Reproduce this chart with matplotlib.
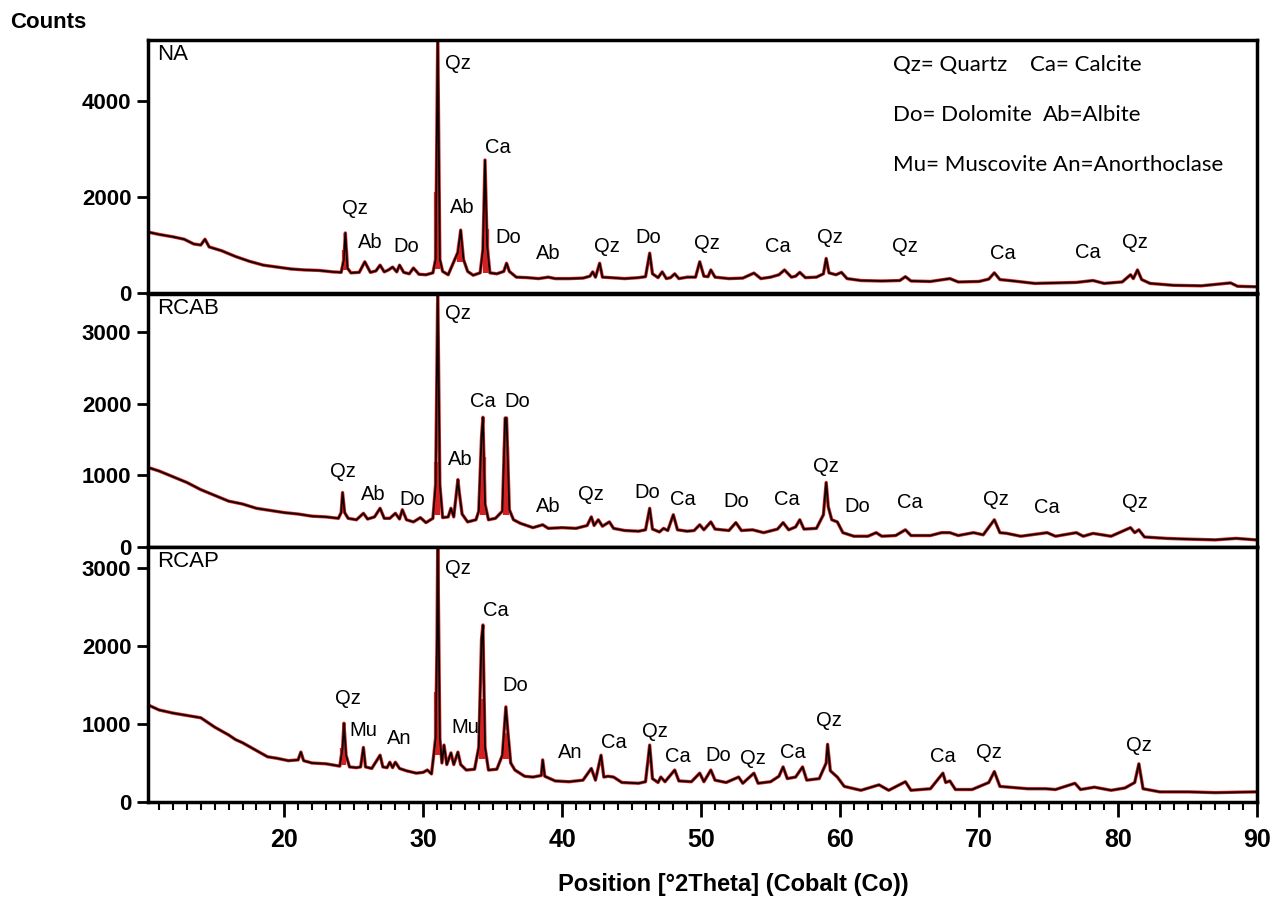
import matplotlib
matplotlib.use('Agg')
import matplotlib.pyplot as plt
from matplotlib.ticker import MultipleLocator

# ---- data ----
na_x = [10.2, 11, 12, 12.8, 13.5, 14.0, 14.3, 14.6, 15.5, 16.5, 17.5, 18.5, 19.5, 20.5, 21.5, 22.5, 23.5,
        24.1, 24.3, 24.4, 24.55, 24.8, 25.4, 25.8, 26.2, 26.6, 26.9, 27.2, 27.5, 27.8, 28.1, 28.3, 28.6, 29.0,
        29.3, 29.7, 30.2, 30.7, 30.9, 31.05, 31.2, 31.4, 31.8, 32.2, 32.5, 32.7, 32.9, 33.2, 33.6, 34.1, 34.3,
        34.45, 34.6, 34.8, 35.3, 35.8, 36.0, 36.2, 36.7, 37.5, 38.3, 39.0, 39.5, 40.5, 41.5, 42.0, 42.2, 42.4,
        42.7, 42.9, 43.5, 44.5, 45.5, 46.0, 46.3, 46.5, 46.9, 47.2, 47.5, 47.8, 48.1, 48.4, 49.0, 49.6, 49.9,
        50.2, 50.5, 50.7, 51.0, 52.0, 53.0, 53.8, 54.3, 55.0, 55.6, 56.0, 56.5, 56.8, 57.1, 57.5, 58.3, 58.8,
        59.0, 59.2, 59.7, 60.1, 60.5, 61.5, 63.0, 64.3, 64.7, 65.1, 66.5, 67.9, 68.5, 70.0, 70.7, 71.1, 71.5,
        72.5, 74.0, 75.5, 77.0, 78.2, 79.0, 80.3, 80.9, 81.1, 81.4, 81.7, 82.3, 84.0, 86.0, 88.1, 88.6, 89.9]
na_y = [1270, 1220, 1170, 1120, 1020, 1000, 1120, 960, 880, 760, 660, 580, 540, 500, 480, 470, 440,
        430, 700, 1250, 520, 420, 430, 650, 430, 460, 580, 440, 480, 540, 440, 580, 430, 400,
        520, 390, 380, 420, 700, 5400, 700, 450, 380, 650, 850, 1310, 700, 450, 370, 420, 900,
        2770, 1000, 420, 400, 450, 620, 450, 330, 320, 300, 330, 300, 300, 310, 350, 440, 330,
        620, 330, 320, 300, 320, 340, 830, 400, 320, 440, 300, 320, 400, 300, 330, 330, 650,
        350, 340, 480, 330, 300, 310, 415, 300, 330, 380, 480, 330, 350, 430, 320, 330, 400,
        720, 420, 380, 430, 300, 260, 250, 260, 340, 250, 240, 300, 230, 240, 290, 420, 280,
        250, 200, 210, 220, 260, 200, 230, 380, 300, 480, 280, 200, 160, 150, 210, 140, 130]

rcab_x = [10.2, 11, 12, 13, 14, 15, 16, 17, 18, 19, 20, 21, 22, 23, 23.9, 24.1, 24.2, 24.35, 24.6, 25.2,
          25.7, 26.0, 26.5, 26.9, 27.2, 27.6, 28.0, 28.3, 28.5, 28.8, 29.3, 29.8, 30.2, 30.7, 30.9, 31.05,
          31.2, 31.4, 31.8, 32.0, 32.2, 32.5, 32.6, 32.8, 33.2, 33.8, 34.0, 34.2, 34.3, 34.45, 34.7, 35.2,
          35.7, 35.9, 36.0, 36.2, 36.5, 37.0, 37.9, 38.6, 39.0, 40.0, 41.0, 41.8, 42.1, 42.3, 42.6, 42.9,
          43.4, 43.7, 44.5, 45.5, 46.0, 46.3, 46.5, 47.0, 47.3, 47.6, 48.0, 48.3, 49.0, 49.5, 49.9, 50.2,
          50.7, 51.0, 52.0, 52.5, 52.9, 53.7, 54.5, 55.5, 55.9, 56.3, 56.8, 57.1, 57.4, 58.3, 58.8, 59.0,
          59.15, 59.4, 59.8, 60.2, 61.0, 62.0, 62.6, 63.0, 64.0, 64.7, 65.1, 66.5, 67.3, 67.9, 68.5, 69.6,
          70.3, 71.1, 71.5, 72.0, 73.0, 74.9, 75.5, 77.0, 77.5, 78.2, 79.5, 80.9, 81.2, 81.5, 81.9, 83.5,
          85.0, 87.0, 88.5, 89.9]
rcab_y = [1110, 1060, 980, 900, 800, 720, 640, 600, 540, 510, 480, 460, 430, 420, 400, 480, 760, 480, 400, 380,
          470, 390, 420, 540, 400, 400, 470, 390, 520, 380, 350, 410, 340, 400, 870, 3600,
          870, 410, 420, 540, 420, 940, 760, 460, 350, 380, 500, 1540, 1810, 600, 380, 400,
          500, 1800, 1800, 520, 380, 330, 270, 310, 260, 270, 260, 300, 420, 300, 380, 290,
          350, 260, 230, 220, 240, 540, 250, 210, 260, 230, 450, 240, 220, 230, 310, 240,
          350, 250, 230, 340, 230, 240, 200, 250, 340, 240, 280, 380, 250, 260, 450, 900,
          560, 380, 350, 200, 150, 150, 200, 150, 160, 240, 160, 160, 200, 200, 160, 200,
          170, 380, 200, 190, 150, 200, 150, 200, 150, 190, 150, 270, 200, 240, 140, 120,
          110, 100, 120, 100]

rcap_x = [10.2, 11, 12, 13, 14, 15, 16, 16.5, 17, 18, 18.8, 19.5, 20.3, 21.0, 21.2, 21.4, 22, 23, 23.5, 24.0,
          24.2, 24.3, 24.45, 24.7, 25.2, 25.5, 25.7, 25.85, 26.3, 26.9, 27.1, 27.4, 27.6, 27.8, 28.0, 28.3,
          28.8, 29.5, 30.0, 30.3, 30.6, 30.9, 31.0, 31.05, 31.2, 31.35, 31.5, 31.7, 32.0, 32.2, 32.5, 32.7,
          33.1, 33.7, 34.0, 34.2, 34.3, 34.45, 34.7, 35.3, 35.7, 35.95, 36.1, 36.3, 36.6, 37.3, 37.9, 38.5,
          38.6, 38.75, 39.5, 40.5, 41.5, 42.1, 42.4, 42.8, 43.0, 43.3, 43.7, 44.3, 45.5, 46.0, 46.3, 46.5,
          46.9, 47.1, 47.4, 48.1, 48.4, 49.3, 49.9, 50.2, 50.7, 51.0, 51.8, 52.7, 53.0, 53.8, 54.1, 55.0,
          55.6, 55.9, 56.2, 56.8, 57.3, 57.6, 58.5, 59.0, 59.1, 59.3, 59.8, 60.3, 61.5, 62.8, 63.5, 64.7,
          65.1, 66.5, 67.4, 67.6, 67.9, 68.3, 69.5, 70.7, 71.1, 71.5, 72.2, 73.5, 74.8, 75.5, 76.9, 77.3,
          78.3, 79.5, 80.5, 81.2, 81.5, 81.8, 83.0, 85.0, 87.0, 89.9]
rcap_y = [1245, 1180, 1140, 1110, 1080, 960, 860, 800, 760, 660, 580, 560, 530, 540, 640, 530, 500, 490, 475, 460,
          690, 1010, 600, 450, 440, 450, 700, 450, 430, 600, 450, 440, 510, 440, 510, 430,
          400, 370, 380, 410, 360, 820, 2110, 3400, 820, 500, 730, 480, 630, 480, 640, 480,
          410, 420, 700, 2090, 2270, 700, 410, 420, 600, 1220, 890, 500, 410, 330, 320, 340,
          540, 330, 270, 260, 280, 430, 280, 600, 320, 330, 320, 250, 240, 260, 730, 300,
          250, 320, 260, 410, 270, 260, 370, 260, 410, 280, 250, 320, 240, 370, 240, 260,
          330, 450, 300, 320, 450, 280, 300, 500, 740, 400, 320, 200, 150, 220, 150, 260,
          150, 170, 370, 250, 270, 160, 160, 250, 390, 200, 190, 170, 170, 160, 240, 160,
          190, 150, 180, 250, 490, 170, 130, 130, 120, 130]

# red reference bars at the strongest reflections: position, lower, upper
na_red = [(24.35, 480, 900), (31.0, 500, 2100), (32.65, 650, 1000), (34.5, 420, 1330)]
rcab_red = [(31.0, 450, 1190), (34.3, 450, 1250), (35.95, 450, 1400)]
rcap_red = [(24.25, 480, 690), (31.0, 600, 1410), (34.25, 550, 1320), (35.95, 550, 890)]

na_labels = [('Qz', 25.1, 1770), ('Ab', 26.2, 1060), ('Do', 28.8, 960), ('Qz', 32.5, 4790),
             ('Ab', 32.8, 1790), ('Ca', 35.4, 3040), ('Do', 36.1, 1150), ('Ab', 39.0, 830),
             ('Qz', 43.2, 960), ('Do', 46.2, 1150), ('Qz', 50.4, 1040), ('Ca', 55.5, 960),
             ('Qz', 59.3, 1150), ('Qz', 64.7, 960), ('Ca', 71.7, 830), ('Ca', 77.8, 850),
             ('Qz', 81.2, 1060)]
rcab_labels = [('Qz', 24.2, 1050), ('Ab', 26.4, 730), ('Do', 29.2, 660), ('Qz', 32.5, 3255),
               ('Ab', 32.7, 1220), ('Ca', 34.3, 2030), ('Do', 36.8, 2030), ('Ab', 39.0, 560),
               ('Qz', 42.1, 730), ('Do', 46.1, 760), ('Ca', 48.7, 660), ('Do', 52.5, 630),
               ('Ca', 56.2, 660), ('Qz', 59.0, 1120), ('Do', 61.2, 560), ('Ca', 65.0, 620),
               ('Qz', 71.2, 660), ('Ca', 74.9, 550), ('Qz', 81.2, 620)]
rcap_labels = [('Qz', 24.6, 1330), ('Mu', 25.7, 920), ('An', 28.3, 820), ('Qz', 32.5, 3000),
               ('Mu', 33.0, 960), ('Ca', 35.2, 2460), ('Do', 36.6, 1500), ('An', 40.6, 630),
               ('Ca', 43.7, 760), ('Qz', 46.7, 900), ('Ca', 48.3, 580), ('Do', 51.2, 600),
               ('Qz', 53.7, 560), ('Ca', 56.6, 630), ('Qz', 59.2, 1050), ('Ca', 67.4, 580),
               ('Qz', 70.7, 630), ('Qz', 81.5, 730)]

panels = [('NA', na_x, na_y, na_red, na_labels, 5270, [0, 2000, 4000]),
          ('RCAB', rcab_x, rcab_y, rcab_red, rcab_labels, 3530, [0, 1000, 2000, 3000]),
          ('RCAP', rcap_x, rcap_y, rcap_red, rcap_labels, 3270, [0, 1000, 2000, 3000])]

legend_rows = [('Qz= Quartz', 'Ca= Calcite'), ('Do= Dolomite', 'Ab=Albite'), ('Mu= Muscovite An=Anorthoclase', '')]

fig = plt.figure(figsize=(12.81, 9), dpi=100)
W, H = 1281, 900
left = 148 / W
width = (1257 - 148) / W
boxes = [(40, 293), (294, 547), (547, 802)]
sans = ['Liberation Sans', 'DejaVu Sans']
narrow = ['Liberation Sans Narrow', 'Liberation Sans', 'DejaVu Sans']

for i, (name, xs, ys, red, labels, ytop, yticks) in enumerate(panels):
    top_px, bot_px = boxes[i]
    ax = fig.add_axes([left, 1 - bot_px / H, width, (bot_px - top_px) / H])
    ax.plot(xs, ys, color='#d42020', lw=2.4, zorder=2)
    for (px, lo, hi) in red:
        ax.vlines(px, lo, hi, color='#d42020', lw=4.5, zorder=2)
    ax.plot(xs, ys, color='black', lw=1.2, zorder=3)
    ax.set_xlim(10.2, 90)
    ax.set_ylim(0, ytop)
    ax.set_yticks(yticks)
    ax.tick_params(axis='y', direction='out', length=8, width=2, labelsize=16, pad=4)
    for lab in ax.get_yticklabels():
        lab.set_fontfamily(sans)
        lab.set_fontweight('bold')
    for s in ax.spines.values():
        s.set_linewidth(2.5)
    for (txt, x, y) in labels:
        ax.text(x, y, txt, ha='center', va='center', fontsize=14.5, family=sans, zorder=4)
    ax.text(0.008, 0.985, name, transform=ax.transAxes, ha='left', va='top', fontsize=16, family=sans)
    if i < 2:
        ax.tick_params(axis='x', which='both', bottom=False, labelbottom=False)
    else:
        ax.set_xticks([20, 30, 40, 50, 60, 70, 80, 90])
        ax.xaxis.set_minor_locator(MultipleLocator(1))
        ax.tick_params(axis='x', which='major', direction='out', length=11, width=2, labelsize=18, pad=8)
        ax.tick_params(axis='x', which='minor', direction='out', length=6, width=1.5)
        for lab in ax.get_xticklabels():
            lab.set_fontfamily(narrow)
            lab.set_fontweight('bold')

fig.text(10 / W, 1 - 22 / H, 'Counts', ha='left', va='center', fontsize=16, family=sans, weight='bold')
fig.text(733 / W, 1 - 884 / H, 'Position [°2Theta] (Cobalt (Co))', ha='center', va='center',
         fontsize=17, family=narrow, weight='bold')

for r, (a, b) in enumerate(legend_rows):
    y = 1 - (65 + 50 * r) / H
    fig.text(893 / W, y, a, ha='left', va='center', fontsize=16, family=['Lato', 'DejaVu Sans'])
    if b:
        fig.text(1030 / W if r == 0 else 1043 / W, y, b, ha='left', va='center', fontsize=16,
                 family=['Lato', 'DejaVu Sans'])

fig.savefig('out.png', dpi=100)
